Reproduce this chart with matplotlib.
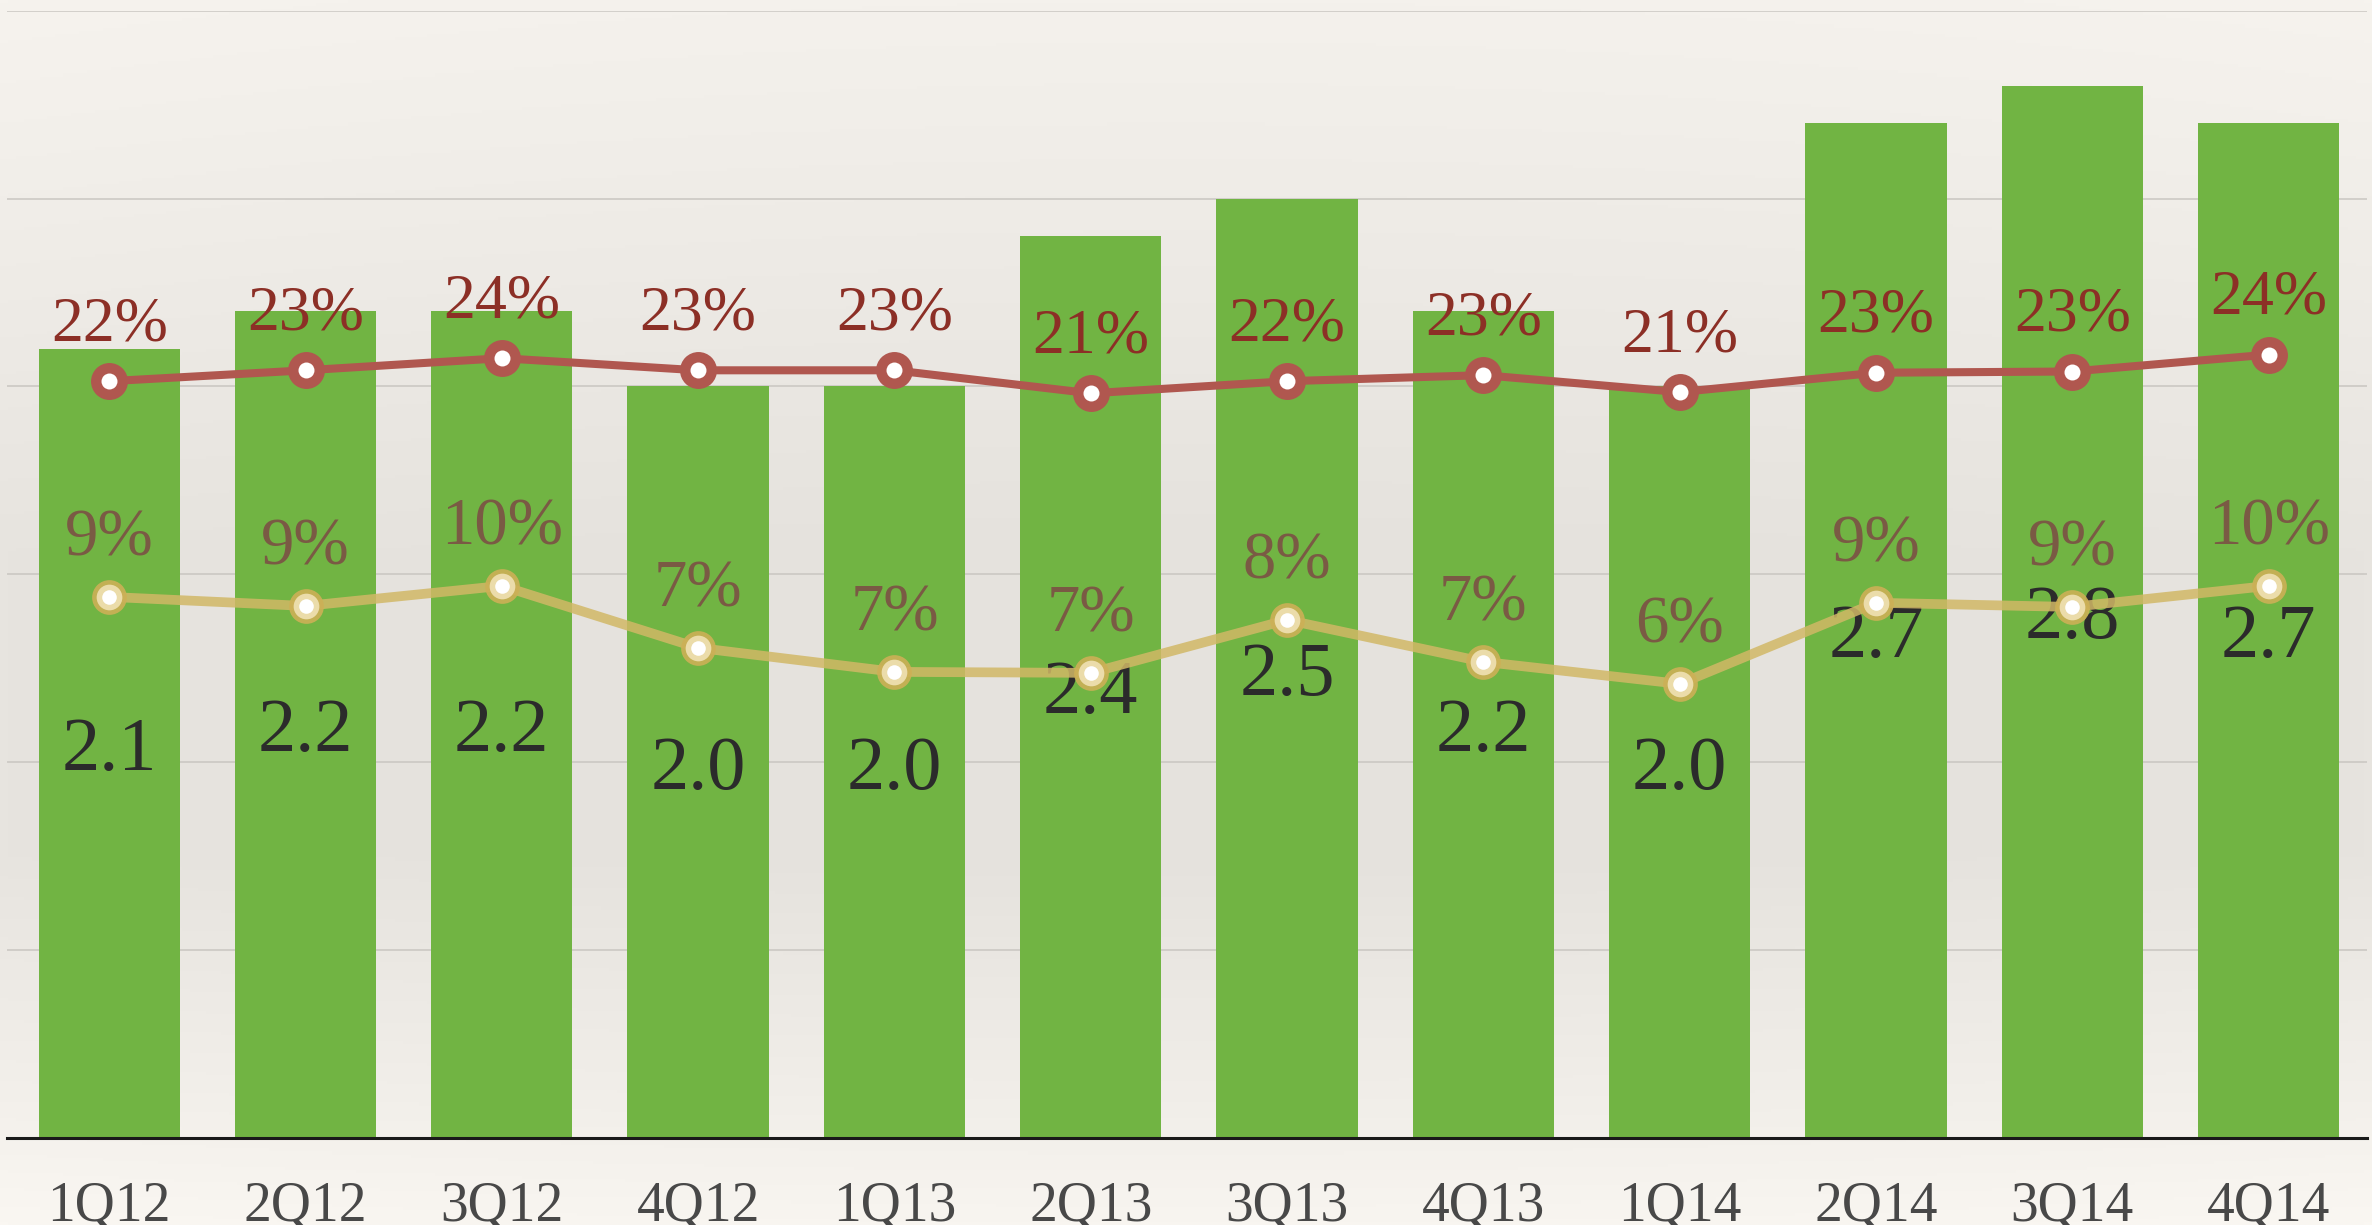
import numpy as np
import matplotlib
matplotlib.use('Agg')
import matplotlib.pyplot as plt

# Data
quarters = ['1Q12', '2Q12', '3Q12', '4Q12', '1Q13', '2Q13',
            '3Q13', '4Q13', '1Q14', '2Q14', '3Q14', '4Q14']
revenue = [2.1, 2.2, 2.2, 2.0, 2.0, 2.4, 2.5, 2.2, 2.0, 2.7, 2.8, 2.7]
gross_margin = [22.0, 22.9, 23.9, 22.9, 22.9, 21.0, 22.0, 22.5, 21.1, 22.7, 22.8, 24.2]
gross_labels = ['22%', '23%', '24%', '23%', '23%', '21%', '22%', '23%', '21%', '23%', '23%', '24%']
net_margin = [9.55, 9.18, 10.0, 7.47, 6.49, 6.45, 8.61, 6.9, 6.0, 9.31, 9.14, 10.0]
net_labels = ['9%', '9%', '10%', '7%', '7%', '7%', '8%', '7%', '6%', '9%', '9%', '10%']

# Style
BAR = '#71B443'
RED_LINE = '#B0574F'
RED_TEXT = '#8C2F26'
GOLD_LINE = '#D1B866'
GOLD_RING = '#CDB056'
GOLD_INNER = '#EBDCAA'
BROWN_TEXT = '#7A5A44'
FONT = 'Liberation Serif'

plt.rcParams['font.family'] = FONT

fig = plt.figure(figsize=(23.72, 12.25), dpi=100)

# paper-like background, darker through the middle
bg = fig.add_axes([0, 0, 1, 1], zorder=-10)
yy = np.linspace(0, 1, 400)
stops_y = [0.0, 0.1, 0.45, 0.7, 0.9, 1.0]
stops_v = [243, 240, 228, 228, 240, 247]
v = np.interp(yy, stops_y, stops_v)
xx = np.linspace(-1, 1, 300)
edge = 1 + 2 * xx ** 2
img = np.zeros((400, 300, 3))
for k, off in enumerate([0, -3, -8]):
    img[:, :, k] = np.clip((v[:, None] + off + edge[None, :]) / 255.0, 0, 1)
bg.imshow(img, aspect='auto', extent=[0, 1, 0, 1], origin='upper')
bg.axis('off')

ax = fig.add_axes([0.003, 0.071, 0.9948, 0.9203])
ax.set_facecolor('none')
x = np.arange(len(quarters))

ax.bar(x, revenue, width=0.72, color=BAR, zorder=2)
ax.set_xlim(-0.52, 11.5)
ax.set_ylim(0, 3.0)
ax.set_yticks(np.arange(0, 3.01, 0.5))
ax.yaxis.grid(True, color='#C9C6C1', linewidth=1.1, zorder=0)
ax.set_axisbelow(True)
ax.set_xticks(x)
ax.set_xticklabels(quarters, fontsize=40, color='#484848')
for s in ['top', 'right', 'left']:
    ax.spines[s].set_visible(False)
ax.spines['bottom'].set_color('#1a1a1a')
ax.spines['bottom'].set_linewidth(2.2)
ax.spines['bottom'].set_zorder(5)

for xi, val in zip(x, revenue):
    ax.annotate(f'{val:.1f}', (xi, val / 2), xytext=(0, -19), textcoords='offset points',
                ha='center', va='baseline', fontsize=55, color='#2B2B2B', zorder=6)

# gross margin line on its own hidden scale
ax_r = ax.twinx()
ax_r.set_ylim(-40.5, 52.6)
ax_r.axis('off')
ax_r.plot(x, gross_margin, color=RED_LINE, linewidth=5.8, zorder=3, solid_capstyle='round')
ax_r.plot(x, gross_margin, linestyle='none', marker='o', markersize=26.6,
          markerfacecolor=RED_LINE, markeredgewidth=0, zorder=4)
ax_r.plot(x, gross_margin, linestyle='none', marker='o', markersize=11.5,
          markerfacecolor='white', markeredgewidth=0, zorder=5)
for xi, val, lab in zip(x, gross_margin, gross_labels):
    ax_r.annotate(lab, (xi, val), xytext=(0, 29.5), textcoords='offset points',
                  ha='center', va='baseline', fontsize=46, color=RED_TEXT, zorder=6)

# net margin line on its own hidden scale
ax_n = ax.twinx()
ax_n.set_ylim(-12.53, 33.47)
ax_n.axis('off')
ax_n.plot(x, net_margin, color=GOLD_LINE, linewidth=7, alpha=0.85, zorder=3)
ax_n.plot(x, net_margin, linestyle='none', marker='o', markersize=25,
          markerfacecolor=GOLD_RING, markeredgewidth=0, alpha=0.9, zorder=4)
ax_n.plot(x, net_margin, linestyle='none', marker='o', markersize=18.5,
          markerfacecolor=GOLD_INNER, markeredgewidth=0, zorder=5)
ax_n.plot(x, net_margin, linestyle='none', marker='o', markersize=10.5,
          markerfacecolor='white', markeredgewidth=0, zorder=5)
for xi, val, lab in zip(x, net_margin, net_labels):
    ax_n.annotate(lab, (xi, val), xytext=(0, 30), textcoords='offset points',
                  ha='center', va='baseline', fontsize=48, color=BROWN_TEXT, zorder=6)

# twinx turns the left ticks back on, so hide them afterwards
ax.tick_params(axis='y', left=False, right=False, labelleft=False)
ax.tick_params(axis='x', length=0, pad=31)

fig.savefig('out.png', dpi=100)
